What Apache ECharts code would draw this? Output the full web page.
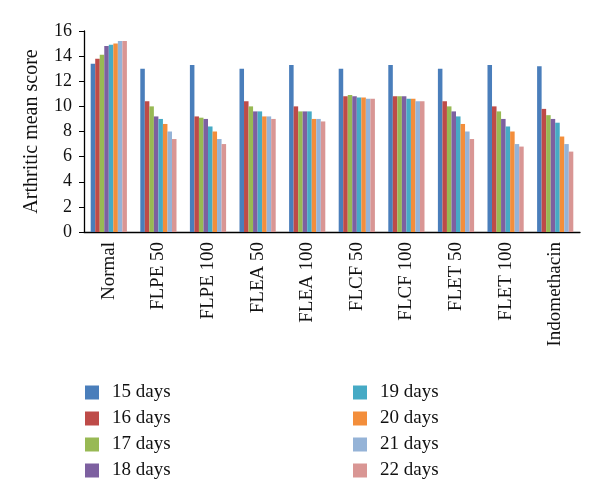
<!DOCTYPE html>
<html><head><meta charset="utf-8">
<script src="https://cdn.jsdelivr.net/npm/echarts@6/dist/echarts.min.js"></script>
<style>html,body{margin:0;padding:0;background:#fff}#c{width:600px;height:501px}</style>
</head><body><div id="c"></div>
<script>
const categories = ['Normal','FLPE 50','FLPE 100','FLEA 50','FLEA 100','FLCF 50','FLCF 100','FLET 50','FLET 100','Indomethacin'];
const seriesNames = ['15 days','16 days','17 days','18 days','19 days','20 days','21 days','22 days'];
const d15 = [13.4,13.0,13.3,13.0,13.3,13.0,13.3,13.0,13.3,13.2];
const d16 = [13.8,10.4,9.2,10.4,10.0,10.8,10.8,10.4,10.0,9.8];
const d17 = [14.1,10.0,9.1,10.0,9.6,10.9,10.8,10.0,9.6,9.3];
const d18 = [14.8,9.2,9.0,9.6,9.6,10.8,10.8,9.6,9.0,9.0];
const d19 = [14.9,9.0,8.4,9.6,9.6,10.7,10.6,9.2,8.4,8.7];
const d20 = [15.0,8.6,8.0,9.2,9.0,10.7,10.6,8.6,8.0,7.6];
const d21 = [15.2,8.0,7.4,9.2,9.0,10.6,10.4,8.0,7.0,7.0];
const d22 = [15.2,7.4,7.0,9.0,8.8,10.6,10.4,7.4,6.8,6.4];
const yTicks = [0,2,4,6,8,10,12,14,16];
const values = [d15,d16,d17,d18,d19,d20,d21,d22];
const colors = ['#4A7EBB','#BE4B48','#98B954','#7D60A0','#46AAC5','#F38E3B','#95B3D7','#D99694'];
const font = '"Liberation Serif","DejaVu Serif",serif';
const chart = echarts.init(document.getElementById('c'));
const legendCommon = {orient:'vertical', itemWidth:14, itemHeight:14, itemGap:7, icon:'rect',
  textStyle:{fontFamily:font, fontSize:19, color:'#111', padding:[0,0,0,8]}};
chart.setOption({
  animation:false,
  color: colors,
  grid:{left:84, right:20, top:31, bottom:269},
  legend:[
    Object.assign({left:80, top:378, data:seriesNames.slice(0,4)}, legendCommon),
    Object.assign({left:348, top:378, data:seriesNames.slice(4)}, legendCommon)
  ],
  xAxis:{type:'category', data:categories,
    axisLine:{lineStyle:{color:'#000', width:1.3}},
    axisTick:{show:false},
    axisLabel:{rotate:90, fontFamily:font, fontSize:19, color:'#111', margin:10, interval:0}},
  yAxis:{type:'value', min:0, max:16, interval:2,
    name:'Arthritic mean score', nameLocation:'middle', nameGap:42,
    nameTextStyle:{fontFamily:font, fontSize:20, color:'#111'},
    axisLine:{show:true, lineStyle:{color:'#000', width:1.3}},
    axisTick:{show:true, length:5, lineStyle:{color:'#000'}},
    splitLine:{show:false},
    axisLabel:{fontFamily:font, fontSize:18, color:'#111', margin:12,
      formatter: v => yTicks.includes(v) ? String(v) : ''}},
  series: seriesNames.map((n,i)=>({name:n, type:'bar', data:values[i],
    barGap:'0%', barCategoryGap:'27%', itemStyle:{color:colors[i]}}))
});
</script></body></html>
